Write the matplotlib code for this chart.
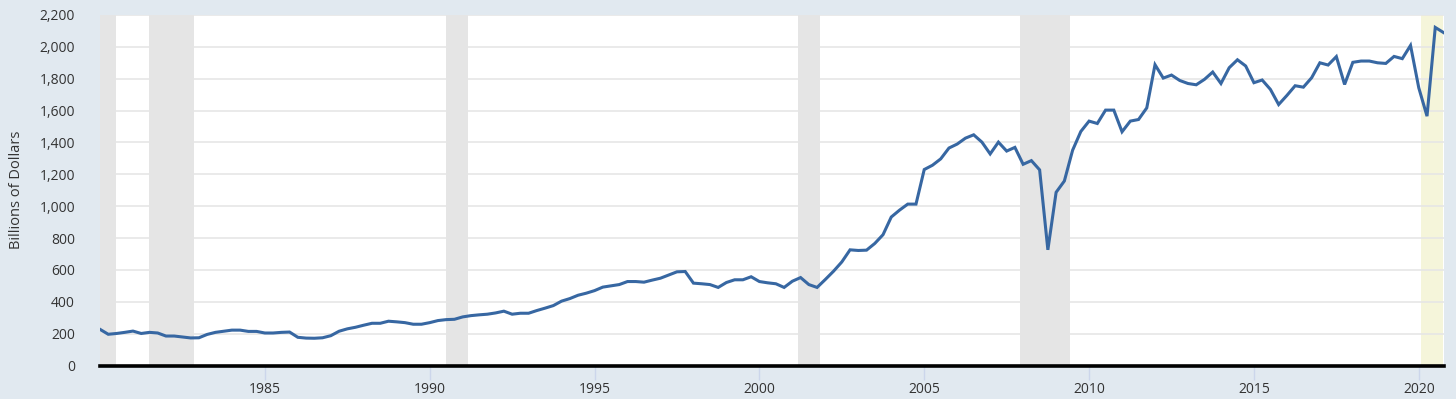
import matplotlib
matplotlib.use("Agg")
import matplotlib.pyplot as plt
from matplotlib.ticker import FuncFormatter, FixedLocator

# Quarterly series, 1980 Q1 .. 2020 Q4 (billions of dollars)
start_year = 1980
values = [
    227, 196, 201, 208, 216, 201, 208, 204, 185, 185, 179, 173,
    174, 195, 208, 215, 222, 222, 214, 214, 204, 204, 208, 210,
    177, 172, 171, 174, 187, 215, 230, 240, 253, 265, 265, 278,
    274, 269, 259, 259, 269, 282, 288, 290, 305, 313, 318, 322,
    330, 341, 322, 328, 328, 345, 360, 376, 404, 420, 441, 454,
    470, 492, 500, 508, 527, 527, 523, 536, 548, 568, 588, 590,
    517, 513, 508, 490, 521, 538, 538, 557, 527, 519, 513, 490,
    529, 552, 508, 490, 540, 592, 650, 726, 722, 724, 766, 821,
    932, 975, 1013, 1013, 1230, 1257, 1297, 1365, 1390, 1427, 1448, 1402,
    1328, 1402, 1346, 1369, 1263, 1286, 1228, 726, 1087, 1158, 1351, 1469,
    1534, 1519, 1603, 1603, 1467, 1534, 1544, 1617, 1888, 1804, 1823, 1789,
    1770, 1762, 1796, 1842, 1770, 1869, 1919, 1880, 1775, 1792, 1733, 1638,
    1695, 1756, 1747, 1806, 1900, 1886, 1939, 1764, 1903, 1911, 1911, 1900,
    1896, 1940, 1926, 2009, 1743, 1565, 2122, 2090,
]
dates = [start_year + 0.25 * i for i in range(len(values))]

recessions = [(1980.0, 1980.5), (1981.5, 1982.84), (1990.5, 1991.16),
              (2001.16, 2001.83), (2007.91, 2009.42)]
current_recession = (2020.08, dates[-1])

y_ticks = [0, 200, 400, 600, 800, 1000, 1200, 1400, 1600, 1800, 2000, 2200]
x_ticks = [1985, 1990, 1995, 2000, 2005, 2010, 2015, 2020]
y_label = "Billions of Dollars"

W, H = 1456, 399
bg = "#e1e9f0"
fig = plt.figure(figsize=(W / 100, H / 100), dpi=100, facecolor=bg)
left, right, top, bottom = 100, 1443.5, 15, 365.5
ax = fig.add_axes([left / W, 1 - bottom / H, (right - left) / W, (bottom - top) / H])
ax.set_facecolor("white")

font = ["Open Sans", "DejaVu Sans"]

for a, b in recessions:
    ax.axvspan(a, b, color="#e5e5e5", lw=0, zorder=1)
ax.axvspan(current_recession[0], current_recession[1], color="#f5f5da", lw=0, zorder=1)

for yv in y_ticks[1:]:
    ax.axhline(yv, color="#e6e6e6", lw=1.2, zorder=2)

ax.plot(dates, values, color="#3767a2", lw=2.2, zorder=4, solid_joinstyle="miter")
ax.axhline(0, color="black", lw=2.6, zorder=5, clip_on=False)

ax.set_xlim(dates[0], dates[-1])
ax.set_ylim(0, 2200)
ax.yaxis.set_major_locator(FixedLocator(y_ticks))
ax.xaxis.set_major_locator(FixedLocator(x_ticks))
ax.yaxis.set_major_formatter(FuncFormatter(lambda v, p: f"{int(v):,}"))

for s in ax.spines.values():
    s.set_visible(False)

ax.tick_params(axis="y", length=0, pad=18, labelsize=10, labelcolor="#333333")
ax.tick_params(axis="x", length=10, width=1, color="#ccd6eb", pad=2,
               labelsize=10, labelcolor="#333333", direction="out")
for lab in ax.get_xticklabels() + ax.get_yticklabels():
    lab.set_fontfamily(font)

ax.set_ylabel(y_label, fontsize=10.5, color="#333333", family=font)
ax.yaxis.set_label_coords(-76 / (right - left), 0.5)

fig.savefig("out.png", dpi=100, facecolor=bg)
